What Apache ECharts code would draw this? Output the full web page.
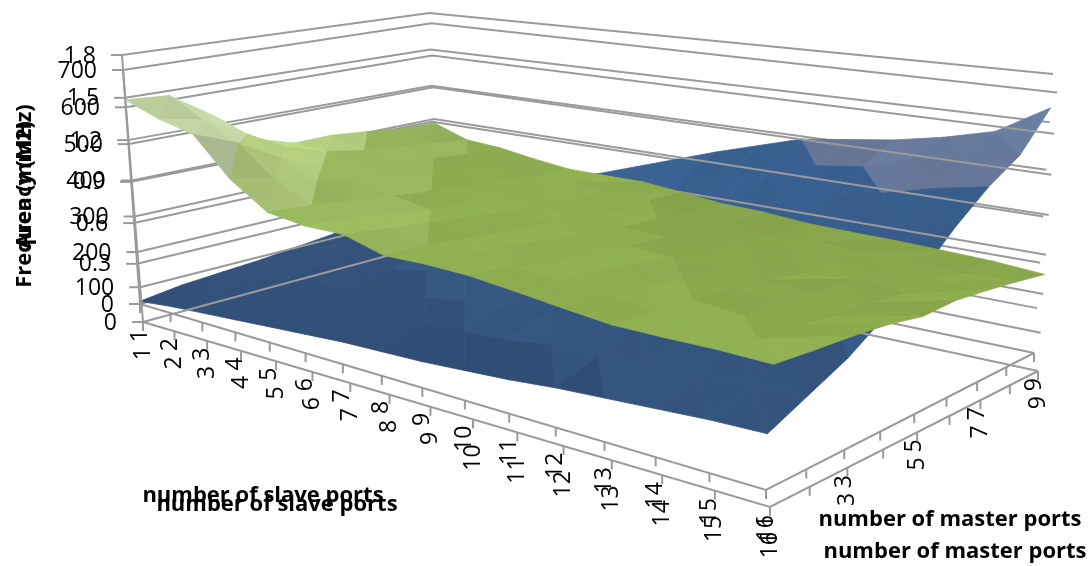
<!DOCTYPE html>
<html>
<head>
<meta charset="utf-8">
<style>
    html, body { margin: 0; padding: 0; background: #fff; }
    #chart { width: 1091px; height: 566px; }
</style>
<script src="https://cdn.jsdelivr.net/npm/echarts@6/dist/echarts.min.js"></script>
</head>
<body>
<div id="chart"></div>
<script>
const slavePorts = [1, 2, 3, 4, 5, 6, 7, 8, 9, 10, 11, 12, 13, 14, 15, 16];
const masterPorts = [1, 2, 3, 4, 5, 6, 7, 8, 9];
const masterLabels = ['1', '', '3', '', '5', '', '7', '', '9'];
const areaTicks = ['0', '0.3', '0.6', '0.9', '1.2', '1.5', '1.8'];
const freqTicks = ['0', '100', '200', '300', '400', '500', '600', '700'];

// one row per master port count, one column per slave port count
const areaValues = [
    [0.02, 0.05, 0.07, 0.09, 0.11, 0.13, 0.15, 0.16, 0.17, 0.19, 0.21, 0.24, 0.26, 0.28, 0.30, 0.31],
    [0.06, 0.08, 0.11, 0.14, 0.16, 0.19, 0.21, 0.25, 0.27, 0.29, 0.33, 0.34, 0.36, 0.39, 0.40, 0.42],
    [0.08, 0.11, 0.15, 0.18, 0.23, 0.25, 0.28, 0.32, 0.36, 0.38, 0.41, 0.45, 0.46, 0.49, 0.52, 0.53],
    [0.10, 0.14, 0.19, 0.23, 0.27, 0.32, 0.35, 0.39, 0.43, 0.48, 0.51, 0.54, 0.59, 0.61, 0.65, 0.68],
    [0.13, 0.18, 0.23, 0.28, 0.33, 0.37, 0.42, 0.48, 0.52, 0.57, 0.63, 0.66, 0.70, 0.76, 0.80, 0.85],
    [0.16, 0.21, 0.27, 0.33, 0.38, 0.44, 0.50, 0.55, 0.62, 0.67, 0.73, 0.80, 0.84, 0.92, 0.98, 1.05],
    [0.19, 0.25, 0.32, 0.38, 0.45, 0.51, 0.58, 0.66, 0.72, 0.79, 0.88, 0.92, 1.02, 1.08, 1.16, 1.22],
    [0.24, 0.31, 0.38, 0.45, 0.53, 0.61, 0.68, 0.76, 0.86, 0.92, 1.00, 1.10, 1.14, 1.24, 1.28, 1.35],
    [0.30, 0.38, 0.46, 0.54, 0.62, 0.70, 0.80, 0.90, 1.00, 1.09, 1.18, 1.22, 1.26, 1.32, 1.40, 1.59],
];
const freqValues = [
    [620, 584, 560, 460, 394, 380, 380, 350, 352, 348, 336, 323, 311, 310, 311, 308],
    [612, 560, 515, 435, 385, 372, 366, 347, 343, 340, 328, 320, 308, 308, 300, 302],
    [536, 500, 450, 405, 372, 356, 354, 336, 337, 323, 320, 306, 302, 292, 296, 298],
    [447, 440, 405, 380, 358, 343, 340, 326, 324, 312, 310, 296, 294, 292, 282, 290],
    [413, 405, 380, 360, 346, 332, 330, 318, 312, 302, 296, 288, 286, 278, 280, 275],
    [414, 385, 368, 350, 330, 326, 316, 312, 302, 296, 284, 284, 272, 282, 270, 280],
    [403, 372, 355, 336, 326, 316, 314, 301, 298, 286, 282, 272, 274, 264, 272, 272],
    [391, 360, 346, 332, 314, 314, 306, 302, 288, 286, 272, 272, 264, 266, 258, 262],
    [387, 350, 342, 325, 312, 311, 311, 300, 288, 284, 274, 271, 269, 265, 260, 250],
];

const LINE_COLOR = '#9a9a9a';
const FONT = '"Open Sans", "Noto Sans", sans-serif';

// floor quad is [near left, front, right, back], then the top of the left and right corners
function makeCamera(quad, topLeft, topRight) {
    const [p0, p1, p2, p3] = quad;
    const dx1 = p1[0] - p2[0];
    const dx2 = p3[0] - p2[0];
    const sx = p0[0] - p1[0] + p2[0] - p3[0];
    const dy1 = p1[1] - p2[1];
    const dy2 = p3[1] - p2[1];
    const sy = p0[1] - p1[1] + p2[1] - p3[1];
    const den = dx1 * dy2 - dx2 * dy1;
    const g = (sx * dy2 - dx2 * sy) / den;
    const h = (dx1 * sy - sx * dy1) / den;
    const a = p1[0] - p0[0] + g * p1[0];
    const b = p3[0] - p0[0] + h * p3[0];
    const d = p1[1] - p0[1] + g * p1[1];
    const e = p3[1] - p0[1] + h * p3[1];
    const wRight = 1 + g + h;
    const c = ((topRight[0] - p2[0]) * wRight - (topLeft[0] - p0[0])) / (topLeft[0] - topRight[0]);
    const vx = topLeft[0] * (1 + c) - p0[0];
    const vy = topLeft[1] * (1 + c) - p0[1];
    return (u, v, w) => {
        const q = g * u + h * v + 1 + c * w;
        return [(a * u + b * v + p0[0] + vx * w) / q, (d * u + e * v + p0[1] + vy * w) / q];
    };
}

const upperCamera = makeCamera([[140, 304], [766, 490], [1034, 353], [435, 227]], [122, 55], [1053, 84]);
const lowerCamera = makeCamera([[143, 322], [770, 507], [1038, 371], [438, 242]], [123, 70], [1057, 98]);

const uOf = (i) => i / (slavePorts.length - 1);
const vOf = (j) => j / (masterPorts.length - 1);

function line(api, points) {
    return {
        type: 'polyline',
        shape: { points: points.map((p) => api.coord(p)) },
        style: { stroke: LINE_COLOR, lineWidth: 2, fill: null },
    };
}

function label(api, text, p, rotation) {
    const [x, y] = api.coord(p);
    return {
        type: 'text',
        x,
        y,
        rotation: rotation || 0,
        style: {
            text,
            fill: '#000',
            font: `23px ${FONT}`,
            align: 'right',
            verticalAlign: 'middle',
        },
    };
}

function renderFrame(api, camera, ticks) {
    const children = [];
    // wall gridlines
    ticks.forEach((text, k) => {
        const w = k / (ticks.length - 1);
        const left = camera(0, 0, w);
        children.push(line(api, [left, camera(0, 1, w), camera(1, 1, w)]));
        children.push(line(api, [[left[0] - 11, left[1]], left]));
        children.push(label(api, text, [left[0] - 26, left[1] + 1]));
    });
    children.push(line(api, [camera(0, 0, 0), camera(0, 0, 1)]));
    // floor edges with their ticks
    children.push(line(api, [camera(0, 0, 0), camera(1, 0, 0), camera(1, 1, 0)]));
    slavePorts.forEach((s, i) => {
        const p = camera(uOf(i), 0, 0);
        children.push(line(api, [p, [p[0], p[1] + 9]]));
        children.push(label(api, String(s), [p[0], p[1] + 25], Math.PI / 2));
    });
    masterPorts.forEach((m, j) => {
        const p = camera(1, vOf(j), 0);
        children.push(line(api, [p, [p[0], p[1] + 9]]));
        if (masterLabels[j]) {
            children.push(label(api, masterLabels[j], [p[0], p[1] + 25], Math.PI / 2));
        }
    });
    return { type: 'group', children };
}

function frameSeries(camera, ticks, z) {
    return {
        type: 'custom',
        coordinateSystem: 'cartesian2d',
        silent: true,
        z,
        data: [[0, 0]],
        renderItem: (params, api) => renderFrame(api, camera, ticks),
    };
}

function tint(rgb, k) {
    const f = (c) => Math.max(0, Math.min(255, Math.round(c * k)));
    return `rgb(${f(rgb[0])},${f(rgb[1])},${f(rgb[2])})`;
}

// cells are painted from the back corner towards the front corner
function surfaceCells(values) {
    const cells = [];
    for (let j = values.length - 2; j >= 0; --j) {
        for (let i = 0; i < values[0].length - 1; ++i) {
            cells.push([i, j]);
        }
    }
    return cells;
}

// shade from the triangle's own tilt, so the facets follow the data
function triangleShade(tri, maxValue, gain) {
    const [A, B, C] = tri;
    const du1 = B.a - A.a;
    const dv1 = B.b - A.b;
    const dz1 = (B.z - A.z) / maxValue;
    const du2 = C.a - A.a;
    const dv2 = C.b - A.b;
    const dz2 = (C.z - A.z) / maxValue;
    const det = du1 * dv2 - du2 * dv1;
    const slopeS = (dz1 * dv2 - dz2 * dv1) / det;
    const slopeM = (du1 * dz2 - du2 * dz1) / det;
    return 1 + gain * (slopeS * 3 - slopeM * 2);
}

function surfaceSeries(camera, values, maxValue, bandColor, gain, z) {
    return {
        type: 'custom',
        coordinateSystem: 'cartesian2d',
        silent: true,
        z,
        data: surfaceCells(values),
        renderItem: (params, api) => {
            const i = api.value(0);
            const j = api.value(1);
            const corners = [[i, j], [i + 1, j], [i + 1, j + 1], [i, j + 1]].map(([a, b]) => ({
                a,
                b,
                p: camera(uOf(a), vOf(b), values[b][a] / maxValue),
                z: values[b][a],
            }));
            // split along the diagonal with the smaller height difference
            const flatFirst = Math.abs(corners[0].z - corners[2].z) < Math.abs(corners[1].z - corners[3].z);
            const tris = flatFirst
                ? [[corners[3], corners[2], corners[0]], [corners[2], corners[1], corners[0]]]
                : [[corners[3], corners[2], corners[1]], [corners[3], corners[1], corners[0]]];
            const children = tris.map((tri) => {
                const mean = (tri[0].z + tri[1].z + tri[2].z) / 3;
                const color = tint(bandColor(mean), triangleShade(tri, maxValue, gain));
                return {
                    type: 'polygon',
                    shape: { points: tri.map((c) => api.coord(c.p)) },
                    style: { fill: color, stroke: color, lineWidth: 0.8 },
                };
            });
            return { type: 'group', children };
        },
    };
}

function areaBand(value) {
    if (value >= 1.15) return [104, 122, 156];
    if (value >= 0.6) return [58, 97, 146];
    if (value >= 0.3) return [54, 88, 132];
    return [50, 81, 122];
}

function freqBand(value) {
    if (value >= 500) return [200, 218, 168];
    if (value >= 400) return [184, 212, 130];
    if (value >= 350) return [156, 188, 96];
    if (value >= 300) return [144, 176, 82];
    return [138, 168, 76];
}

function titleText(text, x, y, rotation) {
    return {
        type: 'text',
        x,
        y,
        rotation: rotation || 0,
        silent: true,
        z: 100,
        style: {
            text,
            fill: '#000',
            font: `bold 22px ${FONT}`,
            align: 'center',
            verticalAlign: 'middle',
        },
    };
}

const chart = echarts.init(document.getElementById('chart'), null, { renderer: 'canvas' });
chart.setOption({
    animation: false,
    backgroundColor: '#fff',
    grid: { left: 0, right: 0, top: 0, bottom: 0 },
    xAxis: { type: 'value', min: 0, max: 1091, show: false },
    yAxis: { type: 'value', min: 0, max: 566, inverse: true, show: false },
    graphic: [
        titleText('Frequency (MHz)', 25, 196, Math.PI / 2),
        titleText('Area (mm2)', 25, 185, Math.PI / 2),
        titleText('number of slave ports', 263, 496),
        titleText('number of slave ports', 277, 505),
        titleText('number of master ports', 950, 520),
        titleText('number of master ports', 955, 552),
    ],
    series: [
        frameSeries(upperCamera, areaTicks, 1),
        surfaceSeries(upperCamera, areaValues, 1.8, areaBand, 0.5, 2),
        frameSeries(lowerCamera, freqTicks, 3),
        surfaceSeries(lowerCamera, freqValues, 700, freqBand, 0.5, 4),
    ],
});
</script>
</body>
</html>
